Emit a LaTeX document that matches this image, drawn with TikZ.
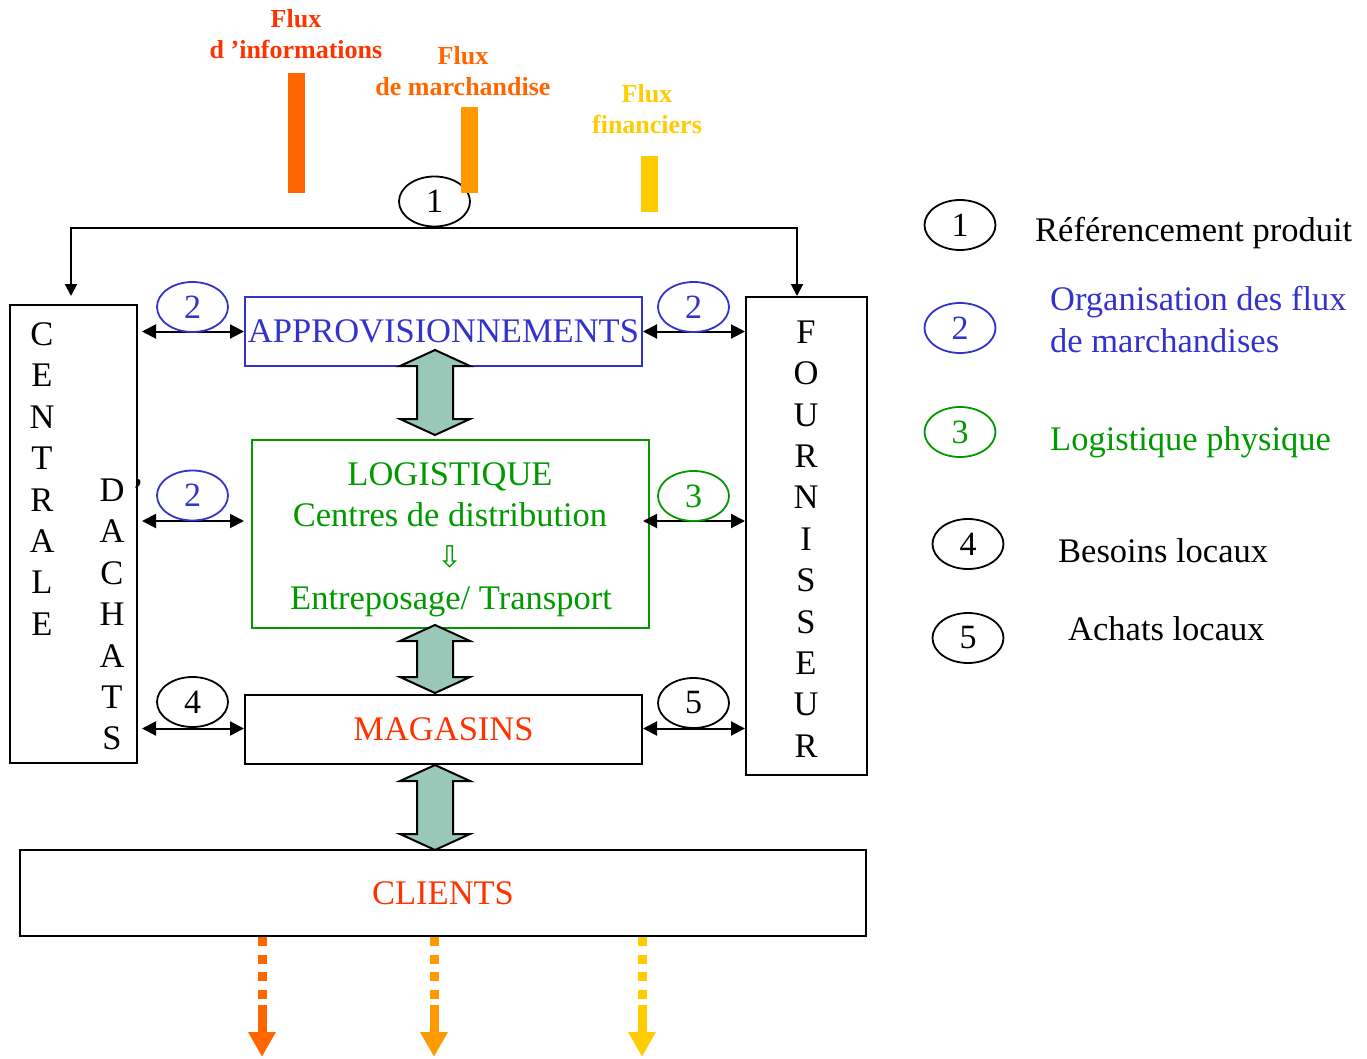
\documentclass[tikz,border=0pt]{standalone}
\usepackage{fontspec}
\setmainfont{Liberation Serif}
\newfontfamily\symfont{DejaVu Sans}
\usetikzlibrary{arrows.meta,shapes.geometric,calc}
\definecolor{infoC}{RGB}{255,51,0}
\definecolor{barA}{RGB}{255,102,0}
\definecolor{barB}{RGB}{255,153,0}
\definecolor{barC}{RGB}{255,204,0}
\definecolor{bleu}{RGB}{51,51,204}
\definecolor{vert}{RGB}{0,153,0}
\definecolor{rouge}{RGB}{255,51,0}
\definecolor{vertgris}{RGB}{153,199,184}
\newcommand{\bigarr}[3]{\draw[bigst] (#1,#2) -- ++(35,16) -- ++(-17,0) -- (#1+18,#3-16) -- ++(17,0) -- (#1,#3) -- ++(-35,-16) -- ++(17,0) -- (#1-18,#2+16) -- ++(-17,0) -- cycle;}
\begin{document}
\begin{tikzpicture}[x=1pt,y=-1pt,
  bigfont/.style={font=\fontsize{34.5}{41.4}\selectfont},
  boxst/.style={draw, line width=2pt, inner sep=0pt, bigfont},
  num/.style={draw, ellipse, line width=1.8pt, minimum width=71pt, minimum height=50pt, inner sep=0pt, font=\fontsize{34}{40}\selectfont},
  dbl/.style={line width=2pt, {Triangle[length=14pt,width=14pt]}-{Triangle[length=14pt,width=14pt]}},
  topconn/.style={line width=2pt, {Triangle[length=12pt,width=12pt]}-{Triangle[length=12pt,width=12pt]}},
  bigst/.style={line width=2pt, fill=vertgris, line join=miter},
  fluxlab/.style={font=\bfseries\fontsize{26}{31}\selectfont, align=center, inner sep=0pt},
  dashpart/.style={line width=9pt, dash pattern=on 9pt off 8.5pt},
  tippart/.style={line width=9pt, -{Triangle[length=25pt,width=26pt]}},
  legtext/.style={font=\fontsize{34.5}{42}\selectfont, anchor=base west, inner sep=0pt, align=left}
]
\useasboundingbox (0,0) rectangle (1367,1059);

% flux labels and bars
\node[fluxlab, text=infoC] (finfo) at (296,34) {Flux\\d ’informations};
\node[fluxlab, text=barA] (fmarch) at (463,71) {Flux\\de marchandise};
\node[fluxlab, text=barC] (ffin) at (647,109) {Flux\\financiers};

% main boxes
\node[boxst, minimum width=127pt, minimum height=458pt] (centrale) at (73.5,534) {};
\node[boxst, minimum width=121pt, minimum height=478pt] (fourn) at (806.5,536) {};
\node[boxst, draw=bleu, text=bleu, minimum width=397pt, minimum height=69pt] (appro) at (443.5,331.5) {APPROVISIONNEMENTS};
\node[boxst, draw=vert, minimum width=397pt, minimum height=188pt] (logi) at (450.5,534) {};
\node[boxst, text=rouge, minimum width=397pt, minimum height=69pt] (mag) at (443.5,729.5) {MAGASINS};
\node[boxst, text=rouge, minimum width=846pt, minimum height=86pt] (clients) at (443,893) {CLIENTS};

% vertical letters
\node[bigfont, align=center, inner sep=0pt] (centraleT) at (42,479) {C\\E\\N\\T\\R\\A\\L\\E};
\node[bigfont, align=center, inner sep=0pt] (achatsT) at (112,614.5) {D\\A\\C\\H\\A\\T\\S};
\node[bigfont, inner sep=0pt] (apos) at (138,491) {’};
\node[bigfont, align=center, inner sep=0pt] (fournT) at (806,539) {F\\O\\U\\R\\N\\I\\S\\S\\E\\U\\R};

% logistique text
\node[bigfont, text=vert, inner sep=0pt, anchor=base] (logi1) at (450,485) {LOGISTIQUE};
\node[bigfont, text=vert, inner sep=0pt, anchor=base] (logi2) at (450,526) {Centres de distribution};
\node[font=\symfont\fontsize{30}{32}\selectfont, text=vert, inner sep=0pt] (logi3) at (450,557) {⇩};
\node[bigfont, text=vert, inner sep=0pt, anchor=base] (logi4) at (451,609) {Entreposage/ Transport};

% top connector with ellipse 1
\node[num] (e1) at (434.5,201.5) {1};
\draw[topconn] ($(centrale.north)+(-2.5,-8)$) |- ($(e1.south)+(0,0.5)$) -| ($(fourn.north)+(-9.5,0)$);

% bars (drawn over ellipse 1)
\fill[barA] (288,73) rectangle (305,193);
\fill[barB] (461,107) rectangle (478,193);
\fill[barC] (641,156) rectangle (658,212);

% small numbered connectors
\coordinate (r2) at (0,521);
\coordinate (r3) at (0,728.5);
\draw[dbl] ($(centrale.east |- appro.west)+(4,0)$) -- (appro.west);
\draw[dbl] (appro.east) -- (fourn.west |- appro.east);
\draw[dbl] ($(centrale.east |- r2)+(4,0)$) -- ($(logi.west |- r2)+(-7,0)$);
\draw[dbl] ($(logi.east |- r2)+(-7,0)$) -- (fourn.west |- r2);
\draw[dbl] ($(centrale.east |- r3)+(4,0)$) -- (mag.west |- r3);
\draw[dbl] (mag.east |- r3) -- (fourn.west |- r3);

\node[num, draw=bleu, text=bleu] (e2a) at (192.5,307) {2};
\node[num, draw=bleu, text=bleu] (e2b) at (693.5,307) {2};
\node[num, draw=bleu, text=bleu] (e2c) at (192.5,495.5) {2};
\node[num, draw=vert, text=vert] (e3) at (693.5,496) {3};
\node[num] (e4) at (192.5,702) {4};
\node[num] (e5) at (693.5,703) {5};

% big double arrows
\bigarr{435}{350}{435}
\bigarr{435}{625}{693}
\bigarr{435}{765}{850}

% bottom flux arrows
\draw[dashpart, barA] ($(clients.south)+(-181,0)$) -- ++(0,62);
\draw[tippart, barA] ($(clients.south)+(-181,68)$) -- ++(0,52);
\draw[dashpart, barB] ($(clients.south)+(-9,0)$) -- ++(0,62);
\draw[tippart, barB] ($(clients.south)+(-9,68)$) -- ++(0,52);
\draw[dashpart, barC] ($(clients.south)+(199,0)$) -- ++(0,62);
\draw[tippart, barC] ($(clients.south)+(199,68)$) -- ++(0,52);

% legend
\node[num] (l1) at (960,225) {1};
\node[num, draw=bleu, text=bleu] (l2) at (960,328) {2};
\node[num, draw=vert, text=vert] (l3) at (960,432) {3};
\node[num] (l4) at (968,544) {4};
\node[num] (l5) at (968,638) {5};
\node[legtext] (t1) at (1035,242) {Référencement produit};
\node[legtext, text=bleu] (t2) at (1050,352) {Organisation des flux\\de marchandises};
\node[legtext, text=vert] (t3) at (1050,450) {Logistique physique};
\node[legtext] (t4) at (1058,562) {Besoins locaux};
\node[legtext] (t5) at (1068,640) {Achats locaux};
\end{tikzpicture}
\end{document}
